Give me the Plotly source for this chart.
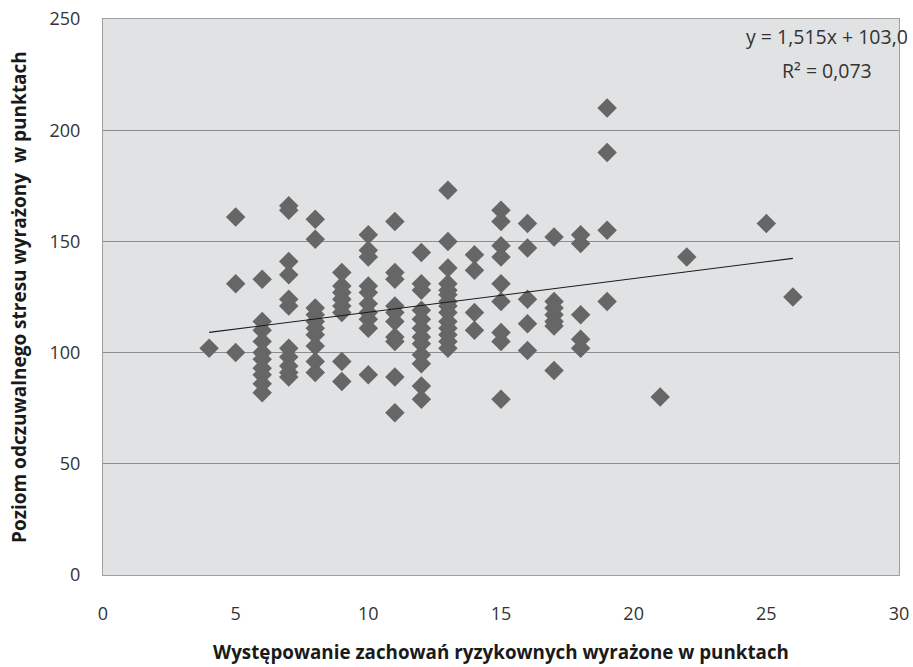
import plotly.graph_objects as go

# Data: x = risky behaviour score, y = perceived stress score
x_columns = [4, 5, 6, 7, 8, 9, 10, 11, 12, 13, 14, 15, 16, 17, 18, 19, 21, 22, 25, 26]
y_groups = [
    [102],
    [161, 131, 100],
    [133, 114, 110, 105, 100, 97, 93, 90, 86, 82],
    [166, 164, 141, 135, 124, 121, 102, 98, 94, 91, 89],
    [160, 151, 120, 117, 114, 111, 108, 103, 96, 91],
    [136, 130, 127, 124, 121, 118, 96, 87],
    [153, 146, 143, 130, 127, 122, 118, 115, 111, 90],
    [159, 136, 133, 121, 118, 114, 107, 105, 89, 73],
    [145, 131, 128, 119, 115, 111, 107, 104, 99, 95, 85, 79],
    [173, 150, 138, 131, 128, 126, 123, 121, 118, 114, 111, 108, 105, 102],
    [144, 137, 118, 110],
    [164, 159, 148, 143, 131, 123, 109, 105, 79],
    [158, 147, 124, 113, 101],
    [152, 123, 120, 117, 114, 112, 92],
    [153, 149, 117, 106, 102],
    [210, 190, 155, 123],
    [80],
    [143],
    [158],
    [125],
]
x_vals = [xc for xc, grp in zip(x_columns, y_groups) for _ in grp]
y_vals = [v for grp in y_groups for v in grp]

slope = 1.515
intercept = 103.0
trend_x = [min(x_vals), max(x_vals)]
trend_y = [slope * v + intercept for v in trend_x]

x_ticks = [0, 5, 10, 15, 20, 25, 30]
y_ticks = [0, 50, 100, 150, 200, 250]

x_title = "Występowanie zachowań ryzykownych wyrażone w punktach"
y_title = "Poziom odczuwalnego stresu wyrażony&nbsp; w punktach"
eq_line1 = "y = 1,515x + 103,0"
eq_line2 = "R² = 0,073"

fig = go.Figure()
fig.add_trace(go.Scatter(
    x=x_vals, y=y_vals, mode="markers",
    marker=dict(symbol="diamond", size=15, color="#666666", line=dict(width=0)),
    showlegend=False, hoverinfo="x+y"))
fig.add_trace(go.Scatter(
    x=trend_x, y=trend_y, mode="lines",
    line=dict(color="#1a1a1a", width=1.2), showlegend=False, hoverinfo="skip"))

font_family = "'Open Sans', sans-serif"
fig.update_layout(
    width=913, height=667,
    margin=dict(l=103, r=14, t=19, b=92),
    paper_bgcolor="white", plot_bgcolor="#e1e2e3",
    font=dict(family=font_family, size=18, color="#333333"),
    xaxis=dict(range=[0, 30], tickvals=x_ticks, showgrid=False, zeroline=False,
               showline=True, linecolor="#a0a0a0", linewidth=1, mirror=True,
               ticks="", tickfont=dict(size=18, color="#333333"),
               ticklabelstandoff=22, automargin=False),
    yaxis=dict(range=[0, 250], tickvals=y_ticks, showgrid=True, gridcolor="#8c8c8c",
               gridwidth=1, zeroline=False,
               showline=True, linecolor="#a0a0a0", linewidth=1, mirror=True,
               ticks="outside", ticklen=18, tickcolor="rgba(0,0,0,0)",
               tickfont=dict(size=18, color="#333333"), automargin=False),
)
# axis titles
fig.add_annotation(xref="paper", yref="paper", x=0.5, y=0, yshift=-77,
                   xanchor="center", yanchor="middle", showarrow=False,
                   text="<b>" + x_title + "</b>",
                   font=dict(size=18.8, color="#1a1a1a", family=font_family))
fig.add_annotation(xref="paper", yref="paper", x=0, xshift=-84, y=0.5,
                   xanchor="center", yanchor="middle", showarrow=False, textangle=-90,
                   text="<b>" + y_title + "</b>",
                   font=dict(size=19, color="#1a1a1a", family=font_family))
# regression equation
fig.add_annotation(xref="x", yref="y", x=27.3, y=242, xanchor="center", yanchor="middle",
                   text=eq_line1, showarrow=False,
                   font=dict(size=19.5, color="#333333", family=font_family))
fig.add_annotation(xref="x", yref="y", x=27.3, y=227, xanchor="center", yanchor="middle",
                   text=eq_line2, showarrow=False,
                   font=dict(size=19.5, color="#333333", family=font_family))
fig.write_html("out.html",
               config={"displayModeBar": False},
               post_script="document.body.style.margin='0';document.body.style.overflow='hidden';")
